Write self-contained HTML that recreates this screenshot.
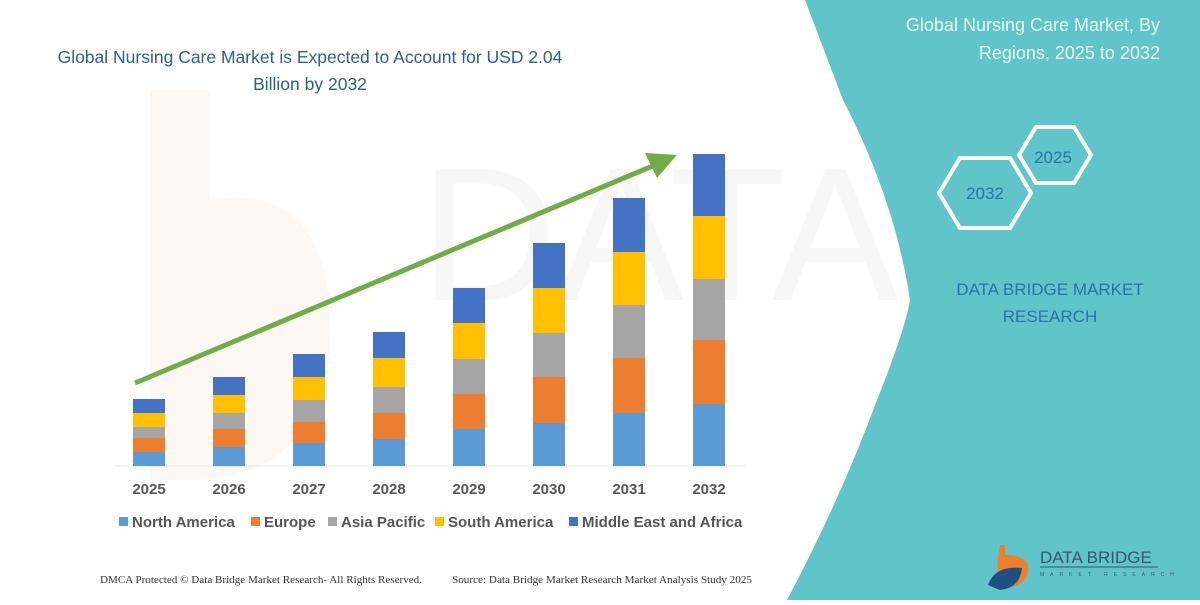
<!DOCTYPE html>
<html><head><meta charset="utf-8"><style>
body{margin:0;width:1200px;height:600px;overflow:hidden;background:#fff;font-family:"Liberation Sans",sans-serif}
</style></head><body>
<svg width="1200" height="600" viewBox="0 0 1200 600" xmlns="http://www.w3.org/2000/svg">
<rect width="1200" height="600" fill="#fff"/>
<path d="M150 90 L210 90 L210 200 Q330 180 330 330 Q330 470 200 480 L150 480 Z" fill="#fdf4ef" opacity="0.6"/>
<text x="420" y="300" font-size="190" fill="#f7f7f7" font-family="Liberation Sans">DATA BRIDGE</text>
<path d="M805 0 L1200 0 L1200 600 L787 600 Q840 500 877 400 Q905 330 910 300 Q895 200 843 100 Z" fill="#5fc5c8"/>
<text x="1160" y="31" font-size="18" fill="#e8f6f6" text-anchor="end">Global Nursing Care Market, By</text>
<text x="1160" y="59" font-size="18" fill="#e8f6f6" text-anchor="end">Regions, 2025 to 2032</text>
<polygon points="1019,155 1036,127 1074,127 1091,155 1074,183 1036,183" fill="none" stroke="#fff" stroke-width="4"/>
<polygon points="939,193 960,158 1010,158 1031,193 1010,228 960,228" fill="none" stroke="#fff" stroke-width="4"/>
<text x="1053" y="163" font-size="17" fill="#2a73a8" text-anchor="middle">2025</text>
<text x="985" y="199" font-size="17" fill="#2a73a8" text-anchor="middle">2032</text>
<text x="1050" y="295" font-size="17" fill="#2a73a8" text-anchor="middle">DATA BRIDGE MARKET</text>
<text x="1050" y="322" font-size="17" fill="#2a73a8" text-anchor="middle">RESEARCH</text>
<path d="M998 545 L1005 545 L1005 555 Q1030 555 1028 572 Q1025 588 1000 588 Q995 570 1000 545Z" fill="#f07f2a"/>
<path d="M988 585 Q995 565 1022 568 Q1020 588 1000 590 Z" fill="#1f4e80"/>
<text x="1040" y="563" font-size="17" fill="#3b5470">DATA BRIDGE</text>
<line x1="1040" y1="567" x2="1158" y2="567" stroke="#3b5470" stroke-width="1"/>
<text x="1040" y="576" font-size="5" fill="#3b5470" letter-spacing="6">MARKET RESEARCH</text>
<text x="310" y="63" font-size="17.5" fill="#2f5f8a" text-anchor="middle">Global Nursing Care Market is Expected to Account for USD 2.04</text>
<text x="310" y="90" font-size="17.5" fill="#2f5f8a" text-anchor="middle">Billion by 2032</text>
<line x1="115" y1="466" x2="745" y2="466" stroke="#e4e4e4"/>
<g id="bars"></g>
<g font-size="15" font-weight="bold" fill="#555" text-anchor="middle">
<text x="149" y="494">2025</text><text x="229" y="494">2026</text><text x="309" y="494">2027</text><text x="389" y="494">2028</text><text x="469" y="494">2029</text><text x="549" y="494">2030</text><text x="629" y="494">2031</text><text x="709" y="494">2032</text>
</g>
<g font-size="15" font-weight="bold" fill="#555">
<rect x="119" y="517" width="9" height="9" fill="#5b9bd5"/><text x="132" y="527">North America</text>
<rect x="251" y="517" width="9" height="9" fill="#ed7d31"/><text x="264" y="527">Europe</text>
<rect x="328" y="517" width="9" height="9" fill="#a5a5a5"/><text x="341" y="527">Asia Pacific</text>
<rect x="435" y="517" width="9" height="9" fill="#ffc000"/><text x="448" y="527">South America</text>
<rect x="569" y="517" width="9" height="9" fill="#4472c4"/><text x="582" y="527">Middle East and Africa</text>
</g>
<text x="100" y="583" font-size="10" fill="#333" font-family="Liberation Serif" textLength="322" lengthAdjust="spacingAndGlyphs">DMCA Protected © Data Bridge Market Research-  All Rights Reserved.</text>
<text x="452" y="583" font-size="10" fill="#333" font-family="Liberation Serif" textLength="300" lengthAdjust="spacingAndGlyphs">Source: Data Bridge Market Research  Market Analysis Study 2025</text>
<line x1="135" y1="383" x2="655" y2="165" stroke="#70ad47" stroke-width="5"/>
<polygon points="677,155 645,153 657,178" fill="#70ad47"/>
</svg>
<script>
var d=[[399,413,427,438,452],[377,395,413,429,447],[354,377,400,422,443],[332,358,387,413,439],[288,323,359,394,429],[243,288,333,377,423],[198,252,305,358,413],[154,216,279,340,404]];
var c=["#4472c4","#ffc000","#a5a5a5","#ed7d31","#5b9bd5"];
var g=document.getElementById("bars"),s="";
d.forEach(function(b,i){var x=133+i*80;for(var k=0;k<5;k++){var y0=b[k],y1=k<4?b[k+1]:466;s+='<rect x="'+x+'" y="'+y0+'" width="32" height="'+(y1-y0)+'" fill="'+c[k]+'"/>';}});
g.innerHTML=s;
</script>
</body></html>
